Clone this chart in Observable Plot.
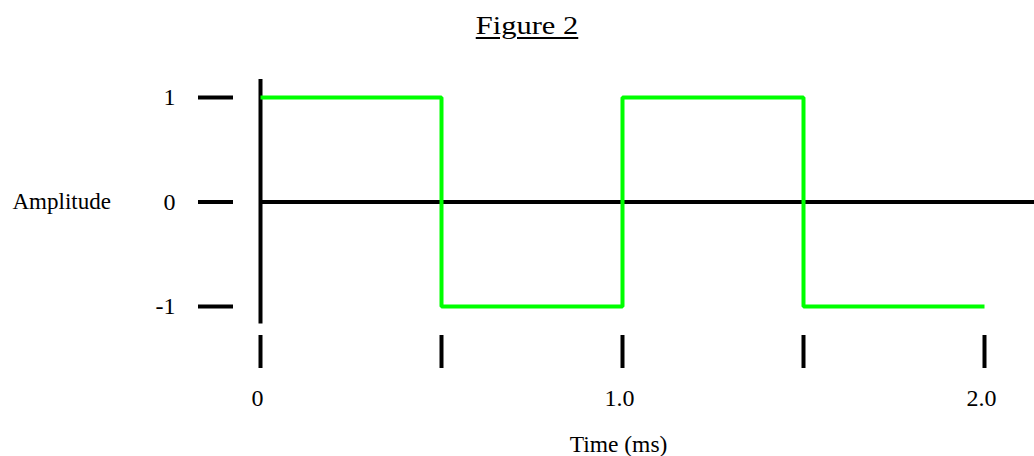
<!DOCTYPE html>
<html>
<head>
<meta charset="utf-8">
<script src="https://cdn.jsdelivr.net/npm/d3@7"></script>
<script src="https://cdn.jsdelivr.net/npm/@observablehq/plot@0.6"></script>
<style>
  html, body { margin: 0; padding: 0; background: #fff; }
  #title { height: 50px; position: relative; font-family: "Liberation Serif", serif; font-size: 25px; color: #000; }
  #title span {
    position: absolute; left: 526.5px; top: 13px; line-height: 25px; white-space: nowrap;
    transform: translateX(-50%) scaleX(1.22);
    text-decoration: underline; text-decoration-thickness: 2px; text-underline-offset: 3px;
  }
</style>
</head>
<body>
<div id="title"><span>Figure 2</span></div>
<div id="chart"></div>
<script>
const titleText = "Figure 2";
const xLabel = "Time (ms)";
const yLabel = "Amplitude";

// square wave (step-after): value held from each time to the next
const times = [0, 0.5, 1.0, 1.5, 2.0];
const amplitudes = [1, -1, 1, -1, -1];

const xTicks = [0, 0.5, 1.0, 1.5, 2.0];
const xTickLabels = ["0", "", "1.0", "", "2.0"];
const yTicks = [1, 0, -1];
const yTickLabels = ["1", "0", "-1"];

const data = times.map((t, i) => ({t, a: amplitudes[i]}));

const chart = Plot.plot({
  width: 1034,
  height: 406,
  marginTop: 47,
  marginBottom: 150,
  marginLeft: 260,
  marginRight: 50,
  x: {domain: [0, 2]},
  y: {domain: [-1, 1]},
  style: {fontFamily: "'Liberation Serif', serif", fontSize: "24px", color: "#000", background: "#fff", overflow: "visible"},
  marks: [
    Plot.axisY(yTicks, {
      tickSize: 35, dx: -27, tickPadding: 23, strokeWidth: 4,
      tickFormat: d => yTickLabels[yTicks.indexOf(d)],
      label: null, fontSize: 24, fill: "#000", stroke: "#000"
    }),
    Plot.axisX(xTicks, {
      tickSize: 33, dy: 29, strokeWidth: 4, tickFormat: null,
      label: null, stroke: "#000", fill: null
    }),
    Plot.axisX(xTicks, {
      tickSize: 0, dy: 29 + 33 + 11.5, dx: -3,
      tickFormat: d => xTickLabels[xTicks.indexOf(d)],
      label: null, fontSize: 24, fill: "#000"
    }),
    Plot.ruleY([0], {stroke: "#000", strokeWidth: 4, insetRight: -50}),
    Plot.ruleX([0], {stroke: "#000", strokeWidth: 4, insetTop: -18, insetBottom: -17.5}),
    Plot.line(data, {x: "t", y: "a", curve: "step-after", stroke: "#00ff00", strokeWidth: 4, strokeLinejoin: "miter", strokeLinecap: "butt"}),
    Plot.text([yLabel], {frameAnchor: "left", dx: -248, textAnchor: "start", lineAnchor: "middle", fontSize: 23, fill: "#000"}),
    Plot.text([xLabel], {frameAnchor: "bottom", dx: -4, dy: 145, textAnchor: "middle", lineAnchor: "bottom", fontSize: 23.5, fill: "#000"})
  ]
});
document.getElementById("chart").appendChild(chart);
document.querySelector("#title span").textContent = titleText;
</script>
</body>
</html>
